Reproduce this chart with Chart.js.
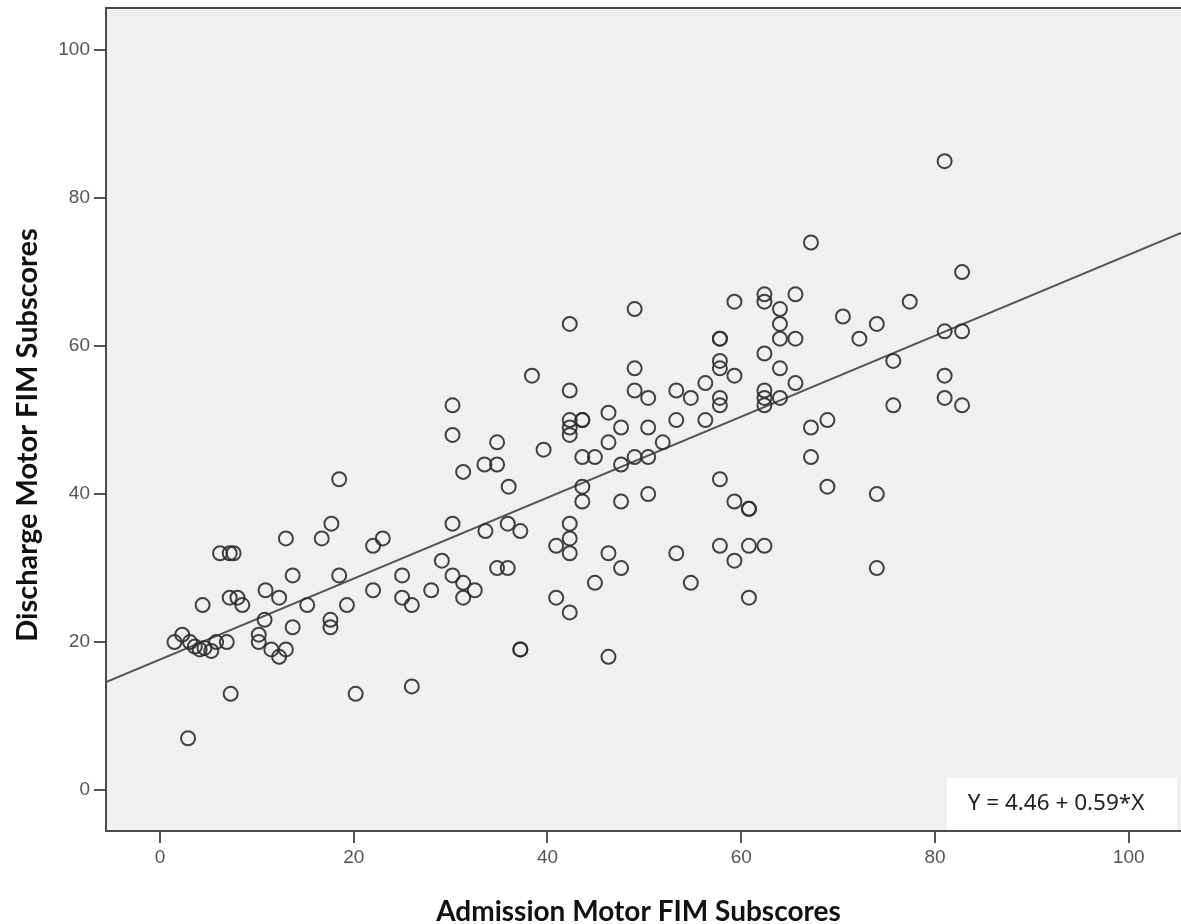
<!DOCTYPE html>
<html>
<head>
<meta charset="utf-8">
<script src="https://cdn.jsdelivr.net/npm/chart.js@4.4.1/dist/chart.umd.min.js"></script>
<style>
  body { margin: 0; background: #fff; }
  canvas { display: block; }
</style>
</head>
<body>
<canvas id="grafico" width="1181" height="924"></canvas>
<script>
// admission (x) / discharge (y) motor FIM subscores
const admissionX = [
  1.5, 2.3, 3.1, 3.6, 4.1, 4.6, 5.3, 5.8, 6.9,
  2.9, 7.3, 20.2, 26,
  4.4, 7.2, 8, 8.5, 10.9, 12.3, 15.2, 19.3, 22, 25, 26, 28,
  10.8, 13.7, 17.6, 17.6, 10.2, 10.2, 11.5, 12.3, 13,
  6.2, 7.2, 7.6, 13.7, 18.5, 25, 29.1, 30.2,
  13, 16.7, 23, 22, 17.7, 30.2,
  18.5, 30.2, 30.2,
  31.3, 33.5, 34.8, 34.8, 36, 35.9, 33.6, 37.2,
  31.3, 31.3, 32.5, 34.8, 35.9, 37.2, 37.2,
  38.4, 39.6, 40.9, 40.9,
  42.3, 42.3, 42.3, 42.3, 42.3, 42.3, 42.3, 42.3, 42.3,
  43.6, 43.6, 43.6, 43.6, 43.6,
  44.9, 44.9,
  46.3, 46.3, 46.3, 46.3,
  47.6, 47.6, 47.6, 47.6,
  49, 49, 49, 49,
  50.4, 50.4, 50.4, 50.4,
  51.9,
  53.3, 53.3, 53.3,
  54.8, 54.8,
  56.3, 56.3,
  57.8, 57.8, 57.8, 57.8, 57.8, 57.8, 57.8, 57.8,
  59.3, 59.3, 59.3, 59.3,
  60.8, 60.8, 60.8, 60.8,
  62.4, 62.4, 62.4, 62.4, 62.4, 62.4, 62.4,
  64, 64, 64, 64, 64,
  65.6, 65.6, 65.6,
  67.2, 67.2, 67.2,
  68.9, 68.9,
  70.5, 72.2,
  74, 74, 74,
  75.7, 75.7,
  77.4,
  81, 81, 81, 81,
  82.8, 82.8, 82.8
];
const dischargeY = [
  20, 21, 20, 19.4, 19, 19.2, 18.8, 20, 20,
  7, 13, 13, 14,
  25, 26, 26, 25, 27, 26, 25, 25, 27, 26, 25, 27,
  23, 22, 23, 22, 21, 20, 19, 18, 19,
  32, 32, 32, 29, 29, 29, 31, 29,
  34, 34, 34, 33, 36, 36,
  42, 52, 48,
  43, 44, 44, 47, 41, 36, 35, 35,
  28, 26, 27, 30, 30, 19, 19,
  56, 46, 33, 26,
  63, 54, 50, 49, 48, 36, 34, 32, 24,
  50, 50, 45, 41, 39,
  45, 28,
  51, 47, 32, 18,
  49, 44, 39, 30,
  65, 57, 54, 45,
  53, 49, 45, 40,
  47,
  54, 50, 32,
  53, 28,
  55, 50,
  61, 61, 58, 57, 53, 52, 42, 33,
  66, 56, 39, 31,
  38, 38, 33, 26,
  67, 66, 59, 54, 53, 52, 33,
  65, 63, 61, 57, 53,
  67, 61, 55,
  74, 49, 45,
  50, 41,
  64, 61,
  63, 40, 30,
  58, 52,
  66,
  85, 62, 56, 53,
  70, 62, 52
];

// fitted line as drawn, at the two ends of the x axis
const fitX = [-5.57, 105.4];
const fitY = [14.6, 75.3];

const xTicks = [0, 20, 40, 60, 80, 100];
const yTicks = [0, 20, 40, 60, 80, 100];
const xTitle = "Admission Motor FIM Subscores";
const yTitle = "Discharge Motor FIM Subscores";
const fitLabel = "Y = 4.46 + 0.59*X";

const pontos = admissionX.map((x, i) => ({ x: x, y: dischargeY[i] }));
const linha = fitX.map((x, i) => ({ x: x, y: fitY[i] }));

// plot background, open box, axis titles and the equation label
const moldura = {
  id: "moldura",
  beforeDatasetsDraw(chart) {
    const { ctx, chartArea: a } = chart;
    ctx.save();
    ctx.fillStyle = "#f0f0f0";
    ctx.fillRect(a.left, a.top, a.right - a.left, a.bottom - a.top);
    ctx.restore();
  },
  afterDatasetsDraw(chart) {
    const { ctx, chartArea: a } = chart;
    ctx.save();
    // equation box
    ctx.fillStyle = "#ffffff";
    ctx.fillRect(a.right - 234, a.bottom - 53, 230, 53);
    ctx.fillStyle = "#222";
    ctx.font = "22.5px 'Noto Sans'";
    ctx.textAlign = "center";
    ctx.textBaseline = "middle";
    ctx.fillText(fitLabel, a.right - 125, a.bottom - 27);

    // box: top, left, bottom (right side runs off the picture)
    ctx.strokeStyle = "#4a4a4a";
    ctx.lineWidth = 2;
    ctx.beginPath();
    ctx.moveTo(a.right, a.top);
    ctx.lineTo(a.left, a.top);
    ctx.lineTo(a.left, a.bottom);
    ctx.lineTo(a.right, a.bottom);
    ctx.stroke();

    // axis titles
    ctx.fillStyle = "#111";
    ctx.textAlign = "center";
    ctx.textBaseline = "alphabetic";
    ctx.font = "bold 28px Lato";
    ctx.fillText(xTitle, (a.left + a.right) / 2 - 5, 921);
    ctx.font = "bold 29px Lato";
    ctx.translate(37, 435);
    ctx.rotate(-Math.PI / 2);
    ctx.fillText(yTitle, 0, 0);
    ctx.restore();
  },
};

const ctx = document.getElementById("grafico");

const chart = new Chart(ctx, {
  type: "scatter",
  data: {
    datasets: [
      {
        data: pontos,
        pointRadius: 7,
        pointBorderWidth: 2,
        borderColor: "rgba(45, 45, 45, 0.9)",
        backgroundColor: "rgba(0, 0, 0, 0)",
        order: 1,
      },
      {
        data: linha,
        showLine: true,
        borderColor: "#555",
        borderWidth: 2,
        pointRadius: 0,
        order: 2,
      },
    ],
  },
  options: {
    responsive: false,
    animation: false,
    layout: { autoPadding: false, padding: { top: 8, right: 0, left: 0, bottom: 0 } },
    plugins: {
      legend: { display: false },
      tooltip: { enabled: false },
    },
    scales: {
      x: {
        type: "linear",
        min: -5.57,
        max: 105.4,
        afterBuildTicks: (s) => {
          s.ticks = xTicks.map((v) => ({ value: v }));
        },
        afterFit: (s) => {
          s.height = 93;
          s.paddingLeft = 0;
          s.paddingRight = 0;
        },
        border: { display: false },
        grid: {
          drawOnChartArea: false,
          tickLength: 12,
          color: "#555",
          lineWidth: 2,
        },
        ticks: {
          color: "#555",
          padding: 3,
          font: { family: "'Liberation Sans'", size: 19 },
        },
      },
      y: {
        type: "linear",
        min: -5.54,
        max: 105.7,
        afterBuildTicks: (s) => {
          s.ticks = yTicks.map((v) => ({ value: v }));
        },
        afterFit: (s) => {
          s.width = 106;
          s.paddingTop = 0;
          s.paddingBottom = 0;
        },
        border: { display: false },
        grid: {
          drawOnChartArea: false,
          tickLength: 12,
          color: "#555",
          lineWidth: 2,
        },
        ticks: {
          color: "#555",
          padding: 4,
          font: { family: "'Liberation Sans'", size: 19 },
        },
      },
    },
  },
  plugins: [moldura],
});
</script>
</body>
</html>
